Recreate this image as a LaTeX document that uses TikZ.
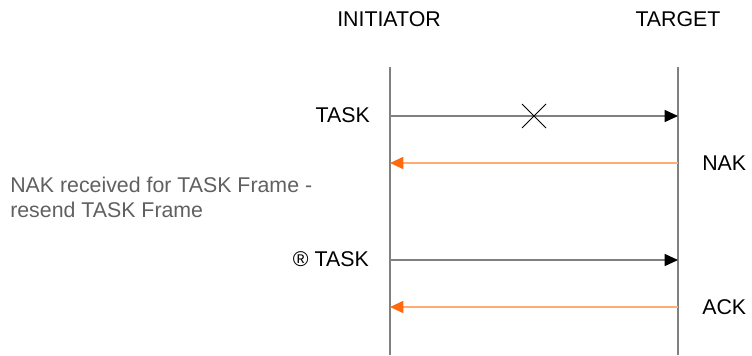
\documentclass[tikz,border=0pt]{standalone}
\usepackage{fontspec}
\setmainfont{Liberation Sans}
\usetikzlibrary{arrows.meta}
\definecolor{lifegray}{HTML}{808080}
\definecolor{nakline}{HTML}{FFAA77}
\definecolor{naktip}{HTML}{FF6A10}
\definecolor{notegray}{HTML}{606060}
\begin{document}
\begin{tikzpicture}[x=0.75pt, y=-0.75pt, font=\fontsize{16}{18.75}\selectfont,
  life/.style={draw=lifegray, line width=1.2pt},
  fwd/.style={draw=lifegray, line width=1pt, -{Triangle[length=10pt, width=9pt, color=black, fill=black]}},
  back/.style={draw=nakline, line width=1.3pt, -{Triangle[length=10pt, width=9pt, color=naktip, fill=naktip]}},
  lbl/.style={inner sep=0pt}]
  \useasboundingbox (0,0) rectangle (752,355);
  \node[lbl] (ini) at (389,19) {INITIATOR};
  \node[lbl] (tgt) at (678,19) {TARGET};
  % lifelines
  \coordinate (ia) at (390,67); \coordinate (ib) at (390,355);
  \coordinate (ta) at (678,67); \coordinate (tb) at (678,355);
  \draw[life] (ia) -- (ib);
  \draw[life] (ta) -- (tb);
  % message rows
  \foreach \n/\y in {m1/116,m2/163,m3/260,m4/307} {
    \coordinate (\n i) at (390,\y);
    \coordinate (\n t) at (678,\y);
  }
  \draw[fwd] (m1i) -- (m1t);
  \draw[back] (m2t) -- (m2i);
  \draw[fwd] (m3i) -- (m3t);
  \draw[back] (m4t) -- (m4i);
  % lost frame
  \coordinate (lost) at (534,116);
  \draw[black, line width=0.6pt] (lost) ++(-12,-12) -- ++(24,24) (lost) ++(-12,12) -- ++(24,-24);
  \node[lbl, anchor=east] (task) at (370,115) {TASK};
  \node[lbl, anchor=west] (nak) at (702,163) {NAK};
  \node[lbl, anchor=east] (retask) at (369,259) {® TASK};
  \node[lbl, anchor=west] (ack) at (702,307) {ACK};
  \node[lbl, anchor=north west, align=left, text=notegray] (note) at (10,177)
    {NAK received for TASK Frame -\\resend TASK Frame};
\end{tikzpicture}
\end{document}
